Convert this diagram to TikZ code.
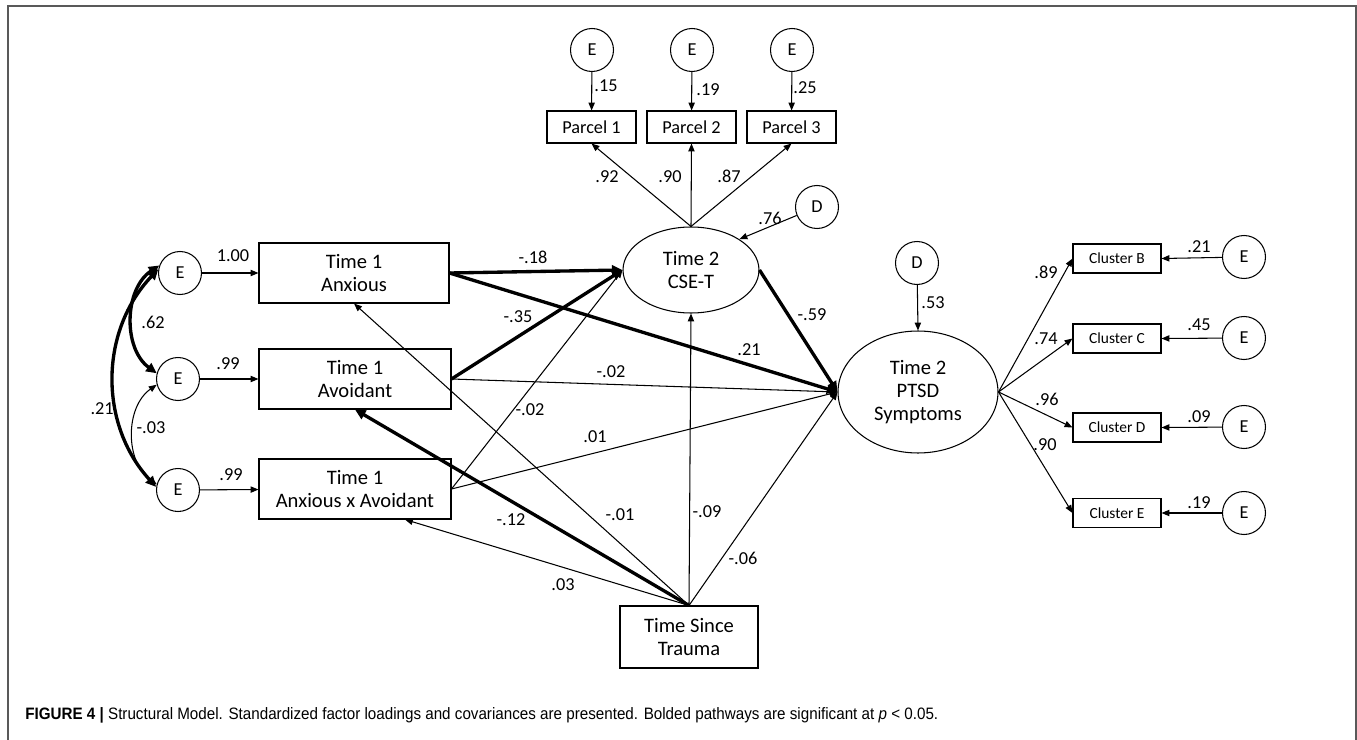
\documentclass[tikz,border=0pt]{standalone}
\usepackage{fontspec}
\setmainfont{Carlito}
\newfontfamily\capfont[FakeStretch=0.92]{Liberation Sans}
\usetikzlibrary{shapes.geometric,arrows.meta,calc}

\tikzset{
  obs/.style={draw, rectangle, align=center, inner sep=0pt, line width=0.6pt,
    font=\fontsize{11.7}{13.2}\selectfont},
  parcel/.style={draw, rectangle, inner sep=0pt, line width=0.6pt,
    minimum width=1.78cm, minimum height=0.64cm, font=\fontsize{10.4}{12}\selectfont},
  cluster/.style={draw, rectangle, inner sep=0pt, line width=0.6pt,
    minimum width=1.76cm, minimum height=0.58cm, font=\fontsize{8.8}{10}\selectfont},
  latent/.style={draw, ellipse, align=center, inner sep=0pt, line width=0.6pt,
    font=\fontsize{11.7}{13.2}\selectfont},
  errc/.style={draw, circle, inner sep=0pt, minimum size=0.86cm, line width=0.6pt,
    font=\fontsize{10.4}{12}\selectfont},
  coef/.style={inner sep=0pt, font=\fontsize{10.4}{12}\selectfont},
  reg/.style={line width=0.6pt, -{Triangle[length=4.5pt,width=3.6pt]}},
  sigreg/.style={line width=1.9pt, -{Triangle[length=6pt,width=5.5pt]}},
  cov/.style={line width=0.6pt, {Triangle[length=4.5pt,width=3.6pt]}-{Triangle[length=4.5pt,width=3.6pt]}},
  sigcov/.style={line width=1.9pt, {Triangle[length=6pt,width=5.5pt]}-{Triangle[length=6pt,width=5.5pt]}},
}

\begin{document}
\begin{tikzpicture}[x=0.02cm, y=-0.02cm]
  \useasboundingbox (0,0) rectangle (1357,740);

  % Frame round the figure, open at the bottom
  \draw[gray!70!black, line width=0.8pt] (8,740) -- (8,6) -- (1356,6) -- (1356,740);

  % Observed predictors at Time 1
  \node[obs, minimum width=3.8cm, minimum height=1.2cm] (anx) at (354,273) {Time 1\\Anxious};
  \node[obs, minimum width=3.84cm, minimum height=1.2cm] (avo) at (355,379) {Time 1\\Avoidant};
  \node[obs, minimum width=3.84cm, minimum height=1.2cm] (axa) at (355,489) {Time 1\\Anxious x Avoidant};

  % Their error terms
  \node[errc] (e1) at (180,273) {E};
  \node[errc] (e2) at (178,379) {E};
  \node[errc] (e3) at (178,490) {E};

  % Latent factors
  \node[latent, minimum width=2.72cm, minimum height=1.72cm] (cse) at (691,270) {Time 2\\CSE-T};
  \node[latent, minimum width=3.2cm, minimum height=2.44cm] (ptsd) at (918,392) {Time 2\\PTSD\\Symptoms};
  \node[errc] (dcse) at (817,207) {D};
  \node[errc] (dptsd) at (917,263) {D};

  % Covariate
  \node[obs, minimum width=2.76cm, minimum height=1.24cm] (tst) at (689,637) {Time Since\\Trauma};

  % Indicators of CSE-T
  \node[parcel] (p1) at (591.5,127) {Parcel 1};
  \node[parcel] (p2) at (691.5,127) {Parcel 2};
  \node[parcel] (p3) at (791.5,127) {Parcel 3};
  \node[errc] (ep1) at (592,50) {E};
  \node[errc] (ep2) at (692,50) {E};
  \node[errc] (ep3) at (792,50) {E};

  % Indicators of PTSD symptoms
  \node[cluster] (cb) at (1117,258.5) {Cluster B};
  \node[cluster] (cc) at (1117,338.5) {Cluster C};
  \node[cluster] (cd) at (1117,427.5) {Cluster D};
  \node[cluster] (ce) at (1117,513) {Cluster E};
  \node[errc] (ecb) at (1244,257) {E};
  \node[errc] (ecc) at (1244,338) {E};
  \node[errc] (ecd) at (1244,427) {E};
  \node[errc] (ece) at (1244,513) {E};

  % Measurement part
  \draw[reg] (ep1) -- (p1);
  \draw[reg] (ep2) -- (p2);
  \draw[reg] (ep3) -- (p3);
  \draw[reg] (cse.north) -- (p1.south);
  \draw[reg] (cse.north) -- (p2.south);
  \draw[reg] (cse.north) -- (p3.south);
  \draw[reg] (dcse) -- (cse.north east);
  \draw[reg] (dptsd) -- (ptsd.north);
  \foreach \c in {cb,cc,cd,ce}{
    \draw[reg] (ptsd.east) -- (\c.west);
    \draw[reg] (e\c) -- (\c.east);
  }

  % Errors of the Time 1 variables and their covariances
  \draw[reg] (e1) -- (anx);
  \draw[reg] (e2) -- (avo);
  \draw[reg] (e3) -- (axa);
  \draw[sigcov] (e1.160) to[bend right=55] (e2.165);
  \draw[sigcov] (e1.170) to[bend right=43] (e3.172);
  \draw[cov] (e2.195) to[bend right=55] (e3.165);

  % Structural paths (bold ones are significant)
  \draw[sigreg] (anx.east) -- (cse.west);
  \draw[sigreg] (anx.east) -- (ptsd.west);
  \draw[sigreg] (avo.east) -- (cse.west);
  \draw[reg] (avo.east) -- (ptsd.west);
  \draw[reg] (axa.east) -- (cse.west);
  \draw[reg] (axa.east) -- (ptsd.west);
  \draw[sigreg] (cse.east) -- (ptsd.west);
  \draw[reg] (tst.north) -- (cse.south);
  \draw[reg] (tst.north) -- (ptsd.west);
  \draw[reg] (tst.north) -- (anx.south);
  \draw[sigreg] (tst.north) -- (avo.south);
  \draw[reg] (tst.north) -- ([xshift=1cm]axa.south);

  % Coefficients
  \node[coef] (lep1) at (606,86) {.15};
  \node[coef] (lep2) at (708,90) {.19};
  \node[coef] (lep3) at (805,88) {.25};
  \node[coef] (lp1) at (607,177) {.92};
  \node[coef] (lp2) at (670,177) {.90};
  \node[coef] (lp3) at (729,176) {.87};
  \node[coef] (ldcse) at (770,218) {.76};
  \node[coef] (ldptsd) at (933,303) {.53};
  \node[coef] (le1) at (233,256) {1.00};
  \node[coef] (le2) at (228,364) {.99};
  \node[coef] (le3) at (231,475) {.99};
  \node[coef] (lc12) at (153,322) {.62};
  \node[coef] (lc23) at (151,428) {-.03};
  \node[coef, anchor=east] (lc13) at (114,409) {.21};
  \node[coef] (lanxcse) at (533,257) {-.18};
  \node[coef] (lavocse) at (518,317) {-.35};
  \node[coef] (lanxptsd) at (749,350) {.21};
  \node[coef] (lavoptsd) at (611,372) {-.02};
  \node[coef] (laxacse) at (530,410) {-.02};
  \node[coef] (laxaptsd) at (595,437) {.01};
  \node[coef] (lcseptsd) at (812,315) {-.59};
  \node[coef] (ltstavo) at (511,520) {-.12};
  \node[coef] (ltstanx) at (620,515) {-.01};
  \node[coef] (ltstcse) at (707,512) {-.09};
  \node[coef] (ltstptsd) at (743,558) {-.06};
  \node[coef] (ltstaxa) at (563,585) {.03};
  \node[coef] (lcb) at (1046,272) {.89};
  \node[coef] (lcc) at (1046,339) {.74};
  \node[coef] (lcd) at (1047,399) {.96};
  \node[coef] (lce) at (1045,445) {.90};
  \node[coef] (lecb) at (1199,247) {.21};
  \node[coef] (lecc) at (1199,325) {.45};
  \node[coef] (lecd) at (1199,417) {.09};
  \node[coef] (lece) at (1199,503) {.19};

  % Caption
  \node[anchor=base west, inner sep=0pt, font=\capfont\fontsize{9.4}{11}\selectfont] (cap) at (25,719)
    {\textbf{FIGURE 4 |} Structural Model. Standardized factor loadings and covariances are presented. Bolded pathways are significant at {\itshape p} < 0.05.};
\end{tikzpicture}
\end{document}
